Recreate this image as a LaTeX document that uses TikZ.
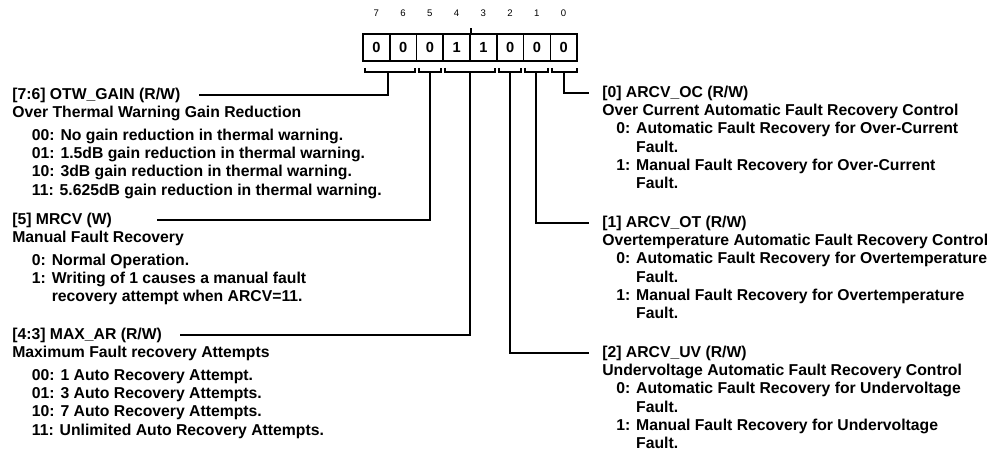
\documentclass[tikz,border=0pt]{standalone}
\usepackage{fontspec}
\setmainfont{Liberation Sans}
\usepackage{xcolor}
\usepackage{tikz}

\begin{document}
\begin{tikzpicture}[x=0.025cm, y=-0.025cm,
    cell/.style={draw, line width=1.1pt, minimum width=0.669cm, minimum height=0.675cm, inner sep=0pt, font=\fontsize{10.4pt}{12pt}\selectfont\bfseries},
    bitnum/.style={inner sep=0pt, font=\fontsize{6.8pt}{8pt}\selectfont},
    fieldname/.style={inner sep=0pt, anchor=west, font=\fontsize{11.2pt}{13pt}\selectfont\bfseries},
    fielddesc/.style={inner sep=0pt, anchor=north west, align=left, font=\fontsize{11.2pt}{13pt}\selectfont\bfseries},
    bitbrace/.style={line width=1pt},
    leader/.style={line width=1pt}]
    \useasboundingbox (0,0) rectangle (999,457);

    % Register bits
    \foreach \b/\v [count=\i from 0] in {7/0,6/0,5/0,4/1,3/1,2/0,1/0,0/0} {
        \node[cell] (c\b) at ({376.4+26.75*\i},47.5) {\v};
        \node[bitnum] (n\b) at ({376.4+26.75*\i},13) {\b};
    }
    \draw[bitbrace] (c4.north east) -- ++(0,-5);

    % Field brackets
    \foreach \k/\l/\r/\m in {k76/365/415/388, k5/419/441/430, k43/445/495/470,
                             k2/499/521/510, k1/525/548/536, k0/552/577/564} {
        \draw[bitbrace] (\l,68) -- (\l,72) -- (\r,72) -- (\r,68);
        \coordinate (\k) at (\m,72);
    }

    % Left fields
    \node[fieldname] (otwgain) at (12,95) {[7:6] OTW\_GAIN (R/W)};
    \node[fielddesc] (otwgaintext) at (12,106) {Over Thermal Warning Gain Reduction\\[3pt]
        \hspace*{14pt}00: No gain reduction in thermal warning.\\
        \hspace*{14pt}01: 1.5dB gain reduction in thermal warning.\\
        \hspace*{14pt}10: 3dB gain reduction in thermal warning.\\
        \hspace*{14pt}11: 5.625dB gain reduction in thermal warning.};

    \node[fieldname] (mrcv) at (12,220) {[5] MRCV (W)};
    \node[fielddesc] (mrcvtext) at (12,231) {Manual Fault Recovery\\[3pt]
        \hspace*{14pt}0: Normal Operation.\\
        \hspace*{14pt}1: Writing of 1 causes a manual fault\\
        \hspace*{14pt}\phantom{1: }recovery attempt when ARCV=11.};

    \node[fieldname] (maxar) at (12,335) {[4:3] MAX\_AR (R/W)};
    \node[fielddesc] (maxartext) at (12,346) {Maximum Fault recovery Attempts\\[3pt]
        \hspace*{14pt}00: 1 Auto Recovery Attempt.\\
        \hspace*{14pt}01: 3 Auto Recovery Attempts.\\
        \hspace*{14pt}10: 7 Auto Recovery Attempts.\\
        \hspace*{14pt}11: Unlimited Auto Recovery Attempts.};

    % Right fields
    \node[fieldname] (arcvoc) at (602,93) {[0] ARCV\_OC (R/W)};
    \node[fielddesc] (arcvoctext) at (602,104) {Over Current Automatic Fault Recovery Control\\
        \hspace*{10pt}0: Automatic Fault Recovery for Over-Current\\
        \hspace*{10pt}\phantom{0: }Fault.\\
        \hspace*{10pt}1: Manual Fault Recovery for Over-Current\\
        \hspace*{10pt}\phantom{1: }Fault.};

    \node[fieldname] (arcvot) at (602,223) {[1] ARCV\_OT (R/W)};
    \node[fielddesc] (arcvottext) at (602,234) {Overtemperature Automatic Fault Recovery Control\\
        \hspace*{10pt}0: Automatic Fault Recovery for Overtemperature\\
        \hspace*{10pt}\phantom{0: }Fault.\\
        \hspace*{10pt}1: Manual Fault Recovery for Overtemperature\\
        \hspace*{10pt}\phantom{1: }Fault.};

    \node[fieldname] (arcvuv) at (602,353) {[2] ARCV\_UV (R/W)};
    \node[fielddesc] (arcvuvtext) at (602,364) {Undervoltage Automatic Fault Recovery Control\\
        \hspace*{10pt}0: Automatic Fault Recovery for Undervoltage\\
        \hspace*{10pt}\phantom{0: }Fault.\\
        \hspace*{10pt}1: Manual Fault Recovery for Undervoltage\\
        \hspace*{10pt}\phantom{1: }Fault.};

    % Leaders
    \draw[leader, shorten >=13pt] (k76) |- (otwgain.east);
    \draw[leader, shorten >=32pt] (k5) |- (mrcv.east);
    \draw[leader, shorten >=13pt] (k43) |- (maxar.east);
    \draw[leader, shorten >=9pt] (k0) |- (arcvoc.west);
    \draw[leader, shorten >=9pt] (k1) |- (arcvot.west);
    \draw[leader, shorten >=9pt] (k2) |- (arcvuv.west);
\end{tikzpicture}
\end{document}
